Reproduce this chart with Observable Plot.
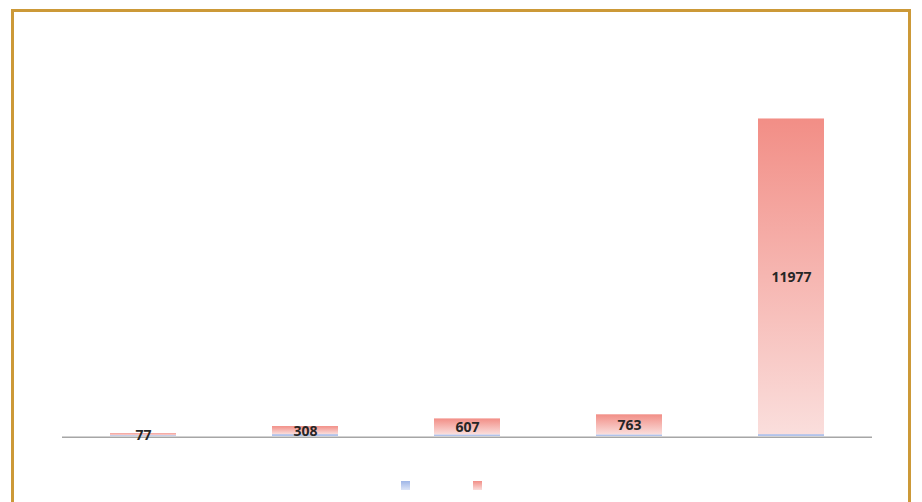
<!DOCTYPE html>
<html>
<head>
<meta charset="utf-8">
<script src="https://cdn.jsdelivr.net/npm/d3@7"></script>
<script src="https://cdn.jsdelivr.net/npm/@observablehq/plot@0.6"></script>
<style>
  html, body { margin: 0; padding: 0; background: #fff; width: 922px; height: 502px; overflow: hidden; }
  #frame { position: absolute; left: 11px; top: 9px; width: 900px; height: 520px; border: 3px solid #CC9938; box-sizing: border-box; }
  #chart { position: absolute; left: 0; top: 0; }
  .sw { position: absolute; top: 481px; width: 9px; height: 9px; }
  #swBlue { left: 401px; background: linear-gradient(#9FB6E7, #DDE5F7); }
  #swRed { left: 473px; background: linear-gradient(#F28E86, #FADEDC); }
</style>
</head>
<body>
<div id="frame"></div>
<div id="chart"></div>
<div class="sw" id="swBlue"></div>
<div class="sw" id="swRed"></div>
<script>
const categories = ["1", "2", "3", "4", "5"];
const blueValues = [30, 70, 60, 60, 70];
const redValues = [77, 308, 607, 763, 11977];

const rows = categories.map((c, i) => ({cat: c, blue: blueValues[i], red: redValues[i]}));

const defs = () => {
  const g = d3.create("svg:defs");
  const r = g.append("linearGradient").attr("id", "gRed").attr("x1", 0).attr("y1", 0).attr("x2", 0).attr("y2", 1);
  r.append("stop").attr("offset", "0%").attr("stop-color", "#F28E86");
  r.append("stop").attr("offset", "100%").attr("stop-color", "#FADEDC");
  const b = g.append("linearGradient").attr("id", "gBlue").attr("x1", 0).attr("y1", 0).attr("x2", 0).attr("y2", 1);
  b.append("stop").attr("offset", "0%").attr("stop-color", "#9FB6E7");
  b.append("stop").attr("offset", "100%").attr("stop-color", "#B8C8EE");
  return g.node();
};

const chart = Plot.plot({
  width: 922,
  height: 461,
  marginLeft: 62,
  marginRight: 50,
  marginTop: 67,
  marginBottom: 25,
  x: {domain: categories, paddingInner: 0.593, paddingOuter: 0.2965, axis: null},
  y: {domain: [0, 14000], axis: null},
  style: {background: "transparent", overflow: "visible"},
  marks: [
    defs,
    Plot.barY(rows, {x: "cat", y1: 0, y2: "blue", fill: "url(#gBlue)"}),
    Plot.barY(rows, {x: "cat", y1: "blue", y2: d => d.blue + d.red, fill: "url(#gRed)"}),
    Plot.ruleY([0], {stroke: "#A6A6A6", strokeWidth: 1.5, dy: 0.75}),
    Plot.text(rows, {x: "cat", y: d => d.blue + d.red / 2, text: d => String(d.red),
      fill: "#262626", fontSize: 14, fontWeight: "bold", fontFamily: "Open Sans", dy: 1})
  ]
});
document.getElementById("chart").append(chart);
</script>
</body>
</html>
